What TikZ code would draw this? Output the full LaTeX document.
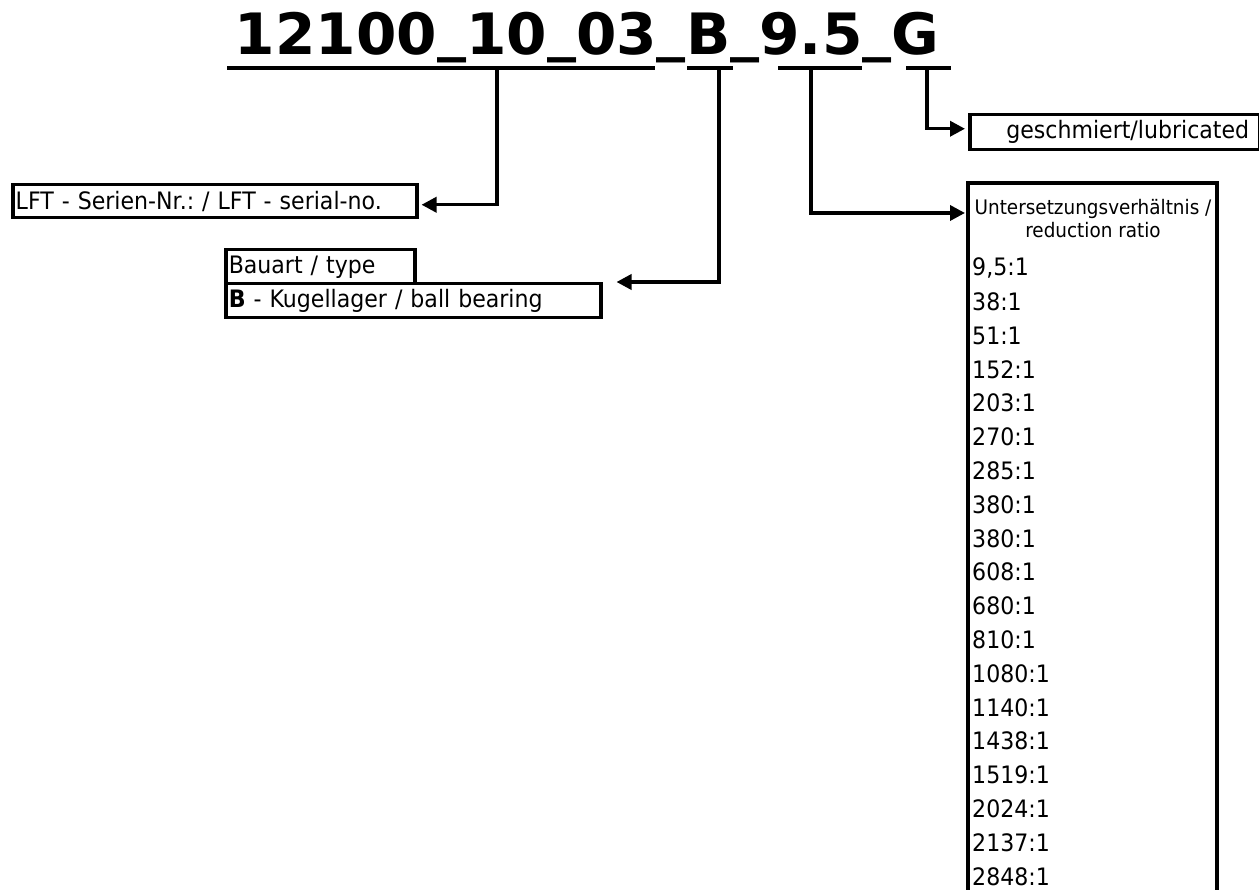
\documentclass[tikz,border=0pt]{standalone}
\usepackage{fontspec}
\setmainfont[FakeStretch=0.92]{DejaVu Sans}
\newfontfamily\titlefont[FakeStretch=1.02]{DejaVu Sans}
\usetikzlibrary{arrows.meta}
\newcommand\tus{\raisebox{5pt}{\_}}
\tikzset{
  line/.style={line width=3.5pt},
  conn/.style={line width=3.5pt, -{Triangle[length=15pt,width=15pt]}},
  boxnode/.style={draw, line width=3.5pt, anchor=north west, inner sep=0pt, font=\fontsize{24}{28}\selectfont},
  itemtext/.style={anchor=west, inner sep=0pt, font=\fontsize{24}{28}\selectfont},
}
\begin{document}
\frenchspacing
\begin{tikzpicture}[x=1pt,y=-1pt]
\useasboundingbox (0,0) rectangle (1259,890);
% title
\node[anchor=base, inner sep=0pt, font=\titlefont\bfseries\fontsize{57}{60}\selectfont] (title) at (587,55) {12100\tus10\tus03\tus B\tus9.5\tus G};
% underline segments and junctions
\coordinate (cS) at (497,68);
\coordinate (cB) at (719,68);
\coordinate (c95) at (811,68);
\coordinate (cG) at (927,68);
\draw[line] (227,68) -- (655,68);
\draw[line] (687,68) -- (733,68);
\draw[line] (778,68) -- (862,68);
\draw[line] (906,68) -- (951,68);
% boxes
\node[boxnode, minimum width=404pt, minimum height=33pt, text width=398pt, align=left, inner xsep=3pt] (lft) at (11,183) {LFT - Serien-Nr.: / LFT - serial-no.};
\node[boxnode, minimum width=189pt, minimum height=34pt, text width=183pt, align=left, inner xsep=3pt] (bauart) at (224,248) {Bauart / type};
\node[boxnode, minimum width=375pt, minimum height=34pt, text width=369pt, align=left, inner xsep=3pt] (kug) at (224,282) {\textbf{B} - Kugellager / ball bearing};
\node[boxnode, minimum width=290pt, minimum height=35pt, text width=290pt, align=center, inner xsep=0pt] (gesch) at (968,113) {\hspace*{26pt}geschmiert/lubricated};
% ratio box (open at bottom)
\draw[line] (968,900) -- (968,183) -- (1217,183) -- (1217,900);
\node[align=center, inner sep=0pt, font=\fontsize{20}{23}\selectfont] (ratiohead) at (1093,219) {Untersetzungsverh\"altnis /\\reduction ratio};
\foreach \t [count=\i from 0] in {{9,5:1},38:1,51:1,152:1,203:1,270:1,285:1,380:1,380:1,608:1,680:1,810:1,1080:1,1140:1,1438:1,1519:1,2024:1,2137:1,2848:1}
  \node[itemtext] (r\i) at (972,{268+33.8*\i}) {\t};
\coordinate (ratioin) at (965,213);
% connectors
\draw[conn] (cS) |- ([xshift=3pt,yshift=-3.5pt]lft.east);
\draw[conn] (cB) |- ([xshift=14pt]kug.north east);
\draw[conn] (c95) |- (ratioin);
\draw[conn] (cG) |- ([xshift=-3pt,yshift=3.5pt]gesch.west);
\end{tikzpicture}
\end{document}
